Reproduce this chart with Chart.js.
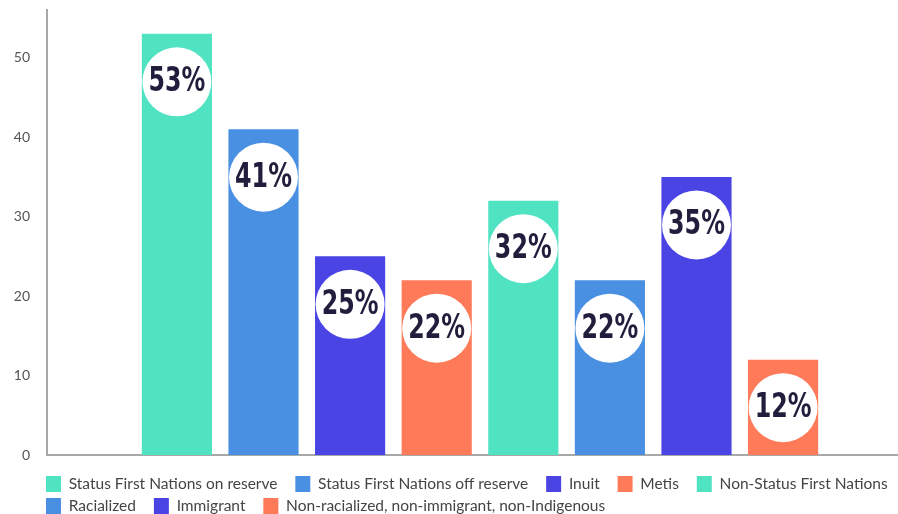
<!DOCTYPE html>
<html>
<head>
<meta charset="utf-8">
<script src="https://cdn.jsdelivr.net/npm/chart.js@4.4.0/dist/chart.umd.min.js"></script>
<style>
  html, body { margin: 0; padding: 0; background: #fff; overflow: hidden; }
  #wrap { width: 913px; height: 514px; }
</style>
</head>
<body>
<div id="wrap"><canvas id="chart"></canvas></div>
<script>
// one empty slot on the left and one cut off at the right edge
const slots = ['', 'a', 'b', 'c', 'd', 'e', 'f', 'g', 'h', ''];
const seriesNames = [
  'Status First Nations on reserve',
  'Status First Nations off reserve',
  'Inuit',
  'Metis',
  'Non-Status First Nations',
  'Racialized',
  'Immigrant',
  'Non-racialized, non-immigrant, non-Indigenous'
];
const seriesValues = [53, 41, 25, 22, 32, 22, 35, 12];
const seriesColors = ['#50e3c2', '#4a90e2', '#4b44e4', '#ff7a59', '#50e3c2', '#4a90e2', '#4b44e4', '#ff7a59'];
const yMax = 56;

const datasets = seriesNames.map((name, i) => ({
  label: name,
  data: slots.map((s, j) => (j === i + 1 ? seriesValues[i] : null)),
  backgroundColor: seriesColors[i],
  borderWidth: 0
}));

const circleLabels = {
  id: 'circleLabels',
  afterDatasetsDraw(chart) {
    const ctx = chart.ctx;
    chart.data.datasets.forEach((ds, i) => {
      const meta = chart.getDatasetMeta(i);
      meta.data.forEach((bar, j) => {
        const v = ds.data[j];
        if (v == null) return;
        const cy = bar.y + 48;
        ctx.save();
        ctx.beginPath();
        ctx.arc(bar.x, cy, 34.5, 0, Math.PI * 2);
        ctx.fillStyle = '#fff';
        ctx.fill();
        // squeeze the text a bit, the original uses a condensed face
        ctx.translate(bar.x, cy + 1);
        ctx.scale(0.72, 1);
        ctx.font = 'bold 33px "DejaVu Sans", sans-serif';
        ctx.fillStyle = '#211e3d';
        ctx.textAlign = 'center';
        ctx.textBaseline = 'middle';
        ctx.fillText(v + '%', 0, 0);
        ctx.restore();
      });
    });
  }
};

// nudge the legend so its rows start under the y axis
const legendShift = {
  id: 'legendShift',
  afterLayout(chart) {
    chart.legend.left -= 7;
    chart.legend.top += 10;
  }
};

new Chart(document.getElementById('chart'), {
  type: 'bar',
  data: { labels: slots, datasets: datasets },
  plugins: [circleLabels, legendShift],
  options: {
    responsive: true,
    maintainAspectRatio: false,
    animation: false,
    layout: { padding: { top: 10, bottom: 0 } },
    datasets: {
      bar: { grouped: false, categoryPercentage: 1, barPercentage: 0.81 }
    },
    scales: {
      x: {
        grid: { display: false, drawTicks: false },
        border: { color: '#a8a8a8', width: 2 },
        ticks: { display: false },
        afterFit(scale) { scale.height = 5; }
      },
      y: {
        min: 0,
        max: yMax,
        grid: { display: false, drawTicks: false },
        border: { color: '#a8a8a8', width: 2 },
        ticks: {
          stepSize: 10,
          includeBounds: false,
          padding: 17,
          color: '#555',
          font: { family: 'Lato', size: 14 }
        },
        afterFit(scale) {
          scale.width = 47;
          scale.paddingTop = 0;
          scale.paddingBottom = 0;
        }
      }
    },
    plugins: {
      tooltip: { enabled: false },
      legend: {
        position: 'bottom',
        align: 'start',
        fullSize: false,
        labels: {
          boxWidth: 15,
          boxHeight: 16,
          padding: 6,
          color: '#444',
          font: { family: 'Lato', size: 15.5 },
          generateLabels(chart) {
            const items = Chart.defaults.plugins.legend.labels.generateLabels(chart);
            items.forEach((it) => { it.text = it.text + '   '; });
            return items;
          }
        }
      }
    }
  }
});
</script>
</body>
</html>
